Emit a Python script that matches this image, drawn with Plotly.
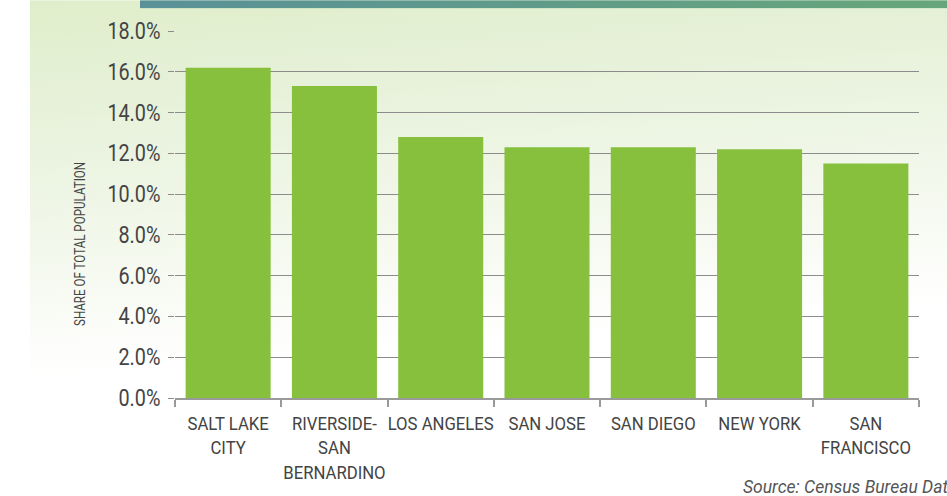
import base64
import plotly.graph_objects as go

categories = ["SALT LAKE<br>CITY", "RIVERSIDE-<br>SAN<br>BERNARDINO", "LOS ANGELES",
              "SAN JOSE", "SAN DIEGO", "NEW YORK", "SAN<br>FRANCISCO"]
shares = [16.2, 15.3, 12.8, 12.3, 12.3, 12.2, 11.5]
y_ticks = [0, 2, 4, 6, 8, 10, 12, 14, 16, 18]
y_tick_labels = ["0.0%", "2.0%", "4.0%", "6.0%", "8.0%", "10.0%", "12.0%", "14.0%", "16.0%", "18.0%"]
y_title = "SHARE OF TOTAL POPULATION"
source_text = "Source: Census Bureau Data"

W, H = 947, 496
ML, MR, MT, MB = 175, 28, 31, 96
PW, PH = W - ML - MR, H - MT - MB
FONT = "Roboto, Liberation Sans, sans-serif"

svg = f'''<svg xmlns="http://www.w3.org/2000/svg" width="{W}" height="{H}" viewBox="0 0 {W} {H}" preserveAspectRatio="none">
<defs>
<linearGradient id="bg" x1="0" y1="0" x2="0.15" y2="1">
<stop offset="0" stop-color="#dfeeca"/>
<stop offset="0.25" stop-color="#e8f2dc"/>
<stop offset="0.5" stop-color="#f3f8ec"/>
<stop offset="0.68" stop-color="#fcfdfa"/>
<stop offset="0.76" stop-color="#ffffff"/>
</linearGradient>
<linearGradient id="band" x1="0" y1="0" x2="1" y2="0">
<stop offset="0" stop-color="#5a9198"/>
<stop offset="1" stop-color="#67a67a"/>
</linearGradient>
</defs>
<rect x="0" y="0" width="{W}" height="{H}" fill="#ffffff"/>
<rect x="30" y="0" width="{W-30}" height="{H}" fill="url(#bg)"/>
<rect x="140" y="0" width="{W-140}" height="8" fill="url(#band)"/>
</svg>'''
bg_uri = "data:image/svg+xml;base64," + base64.b64encode(svg.encode()).decode()

fig = go.Figure(go.Bar(
    x=categories, y=shares,
    marker=dict(color="#86c03c", line=dict(width=0)),
    hoverinfo="skip",
))

fig.update_layout(
    width=W, height=H,
    margin=dict(l=ML, r=MR, t=MT, b=MB),
    paper_bgcolor="rgba(0,0,0,0)",
    plot_bgcolor="rgba(0,0,0,0)",
    bargap=0.2,
    showlegend=False,
    font=dict(family=FONT, color="#444444"),
    images=[dict(source=bg_uri, xref="paper", yref="paper",
                 x=-ML/PW, y=1 + MT/PH, sizex=W/PW, sizey=H/PH,
                 xanchor="left", yanchor="top", sizing="stretch", layer="below")],
    xaxis=dict(
        showgrid=False,
        showline=True, linecolor="#9a9a9a", linewidth=2,
        ticks="outside", tickson="boundaries", ticklen=7, tickcolor="#9a9a9a", tickwidth=1.5,
        ticklabelstandoff=7,
        tickfont=dict(size=19, color="#444444", family=FONT),
        tickangle=0,
    ),
    yaxis=dict(
        range=[0, 18],
        tickvals=y_ticks, ticktext=y_tick_labels,
        showgrid=True, gridcolor="#8c8c8c", gridwidth=1,
        zeroline=False, showline=False,
        ticks="outside", ticklen=6, tickcolor="#8c8c8c", tickwidth=1,
        ticklabelstandoff=3,
        tickfont=dict(size=23, color="#444444", family=FONT),
    ),
    annotations=[
        dict(text=y_title, xref="paper", yref="paper",
             x=(80 - ML) / PW, y=(400 - 245) / PH, xanchor="center", yanchor="middle",
             textangle=-90, showarrow=False,
             font=dict(size=14, color="#444444", family=FONT)),
        dict(text="<i>" + source_text + "</i>", xref="paper", yref="paper",
             x=(741 - ML) / PW, y=-(489 - 400) / PH, xanchor="left", yanchor="middle",
             showarrow=False, font=dict(size=17.5, color="#555555", family=FONT)),
    ],
)

post = """
document.body.style.margin = '0';
var gd = document.getElementById('{plot_id}');
function squish(el, sx) {
  var x = parseFloat(el.getAttribute('x')) || 0;
  var t = el.getAttribute('transform') || '';
  el.setAttribute('transform', t + ' translate(' + x + ',0) scale(' + sx + ',1) translate(' + (-x) + ',0)');
}
gd.querySelectorAll('.xtick text').forEach(function (e) { squish(e, 0.88); });
gd.querySelectorAll('.ytick text').forEach(function (e) { squish(e, 0.86); });
gd.querySelectorAll('.annotation-text').forEach(function (e) {
  if (e.textContent.indexOf('SHARE') === 0) { squish(e, 0.83); }
});
"""

fig.write_html("out.html", post_script=post, config={"displayModeBar": False})
